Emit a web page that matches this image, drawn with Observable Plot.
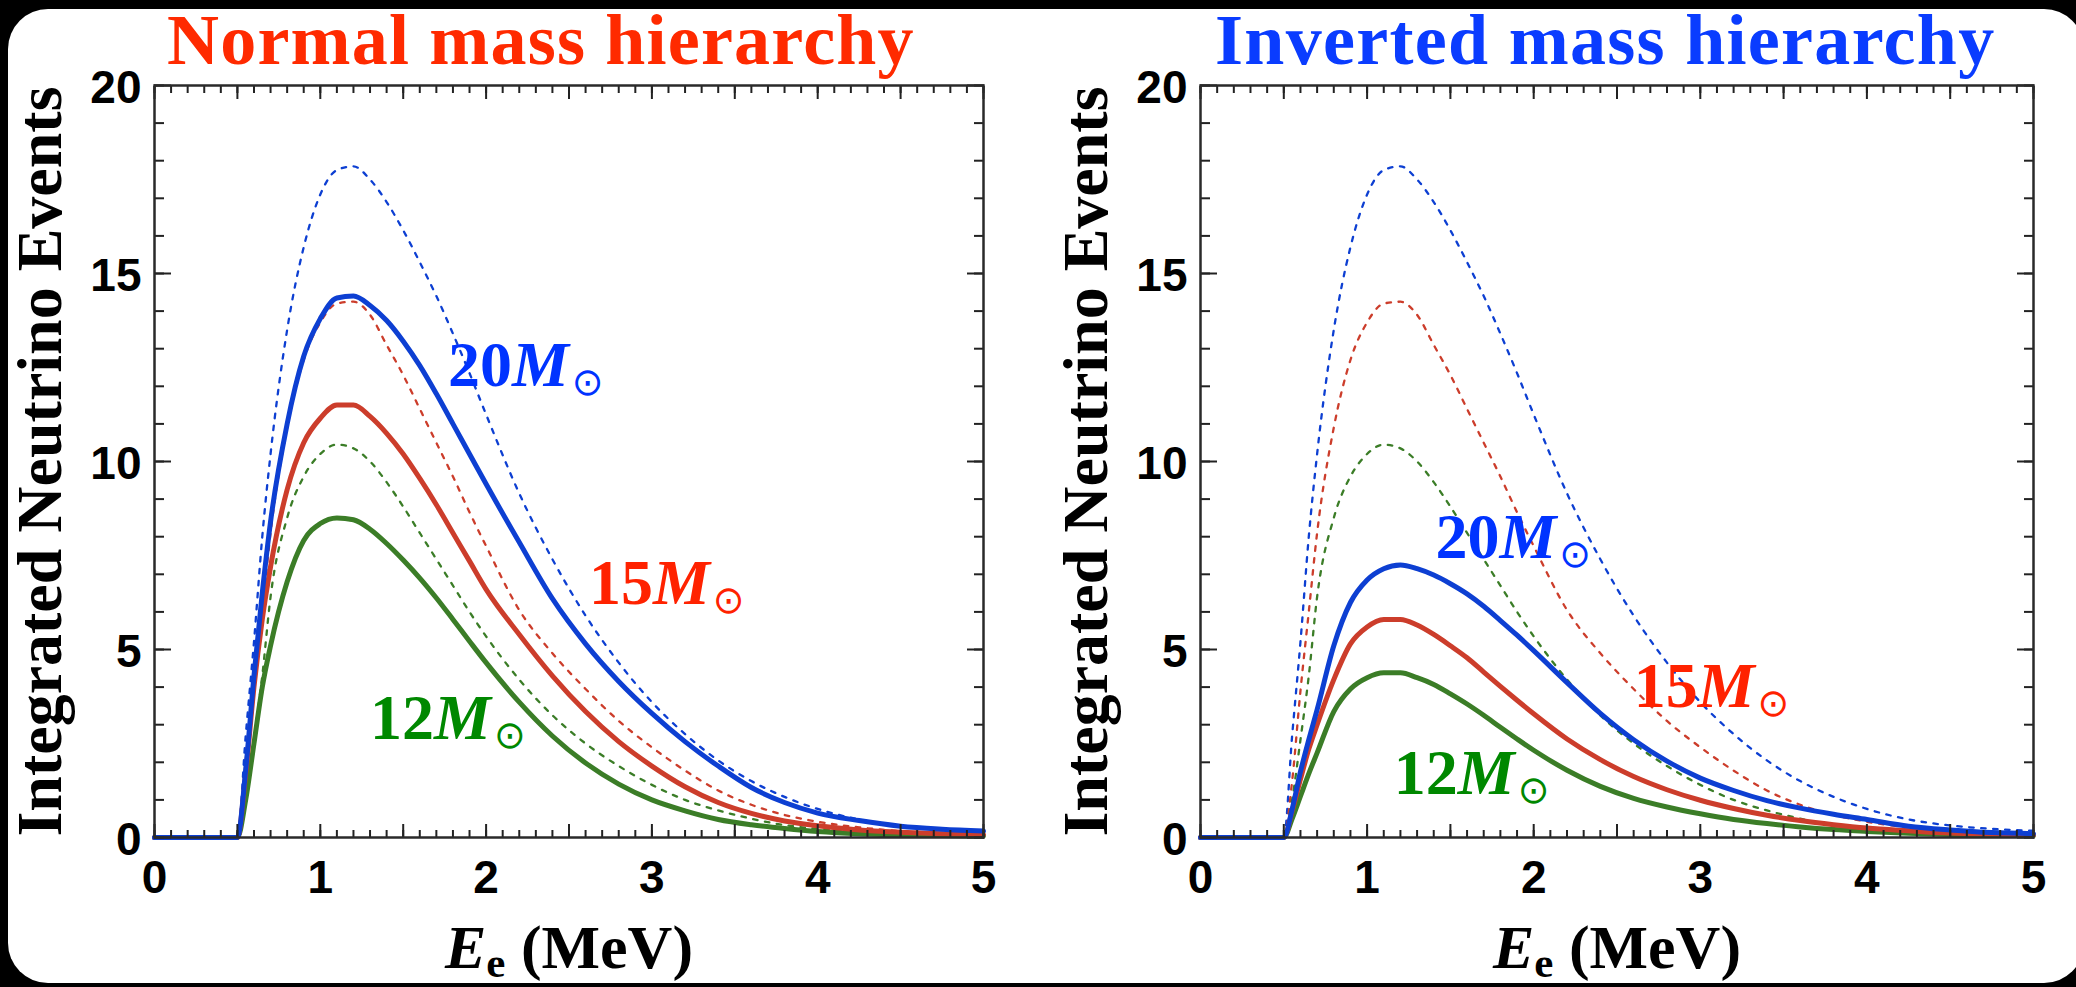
<!DOCTYPE html>
<html><head><meta charset="utf-8">
<script src="https://cdn.jsdelivr.net/npm/d3@7"></script>
<script src="https://cdn.jsdelivr.net/npm/@observablehq/plot@0.6"></script>
<style>
html,body{margin:0;padding:0;background:#000;}
#wrap{position:relative;width:2076px;height:987px;background:#000;overflow:hidden;}
#card{position:absolute;left:8px;top:9px;width:2076px;height:974px;background:#fff;border-radius:40px;}
.title{position:absolute;top:0;font-family:"Liberation Serif","Times New Roman",serif;font-weight:bold;font-size:72px;line-height:80px;white-space:nowrap;}
.panel{position:absolute;top:64px;}
</style></head><body>
<div id="wrap"><div id="card"></div>
<div class="title" style="left:167px;color:#ff2a00;letter-spacing:1.2px">Normal mass hierarchy</div>
<div class="title" style="left:1215px;color:#0a3cff;letter-spacing:1.3px">Inverted mass hierarchy</div>
<div class="panel" id="p1" style="left:0px"></div>
<div class="panel" id="p2" style="left:1040px"></div>
</div>
<script>
// Electron energy grid (MeV)
const E = [0, 0.5, 0.55, 0.6, 0.65, 0.7, 0.8, 0.9, 1.0, 1.1, 1.2, 1.3, 1.4, 1.5, 1.6, 1.7, 1.8, 1.9, 2.0, 2.2, 2.4, 2.6, 2.8, 3.0, 3.2, 3.4, 3.6, 3.8, 4.0, 4.25, 4.5, 4.75, 5.0];
// dotted curves (same in both panels)
const noOsc20 = [0, 0, 2.7, 5.2, 8.0, 10.2, 13.5, 15.7, 17.1, 17.75, 17.85, 17.5, 16.9, 16.15, 15.3, 14.4, 13.4, 12.35, 11.25, 9.15, 7.4, 5.9, 4.65, 3.6, 2.75, 2.05, 1.5, 1.08, 0.76, 0.48, 0.32, 0.23, 0.18];
const noOsc15 = [0, 0, 1.5, 3.9, 6.0, 8.1, 10.9, 12.7, 13.7, 14.2, 14.25, 13.9, 13.1, 12.3, 11.4, 10.5, 9.6, 8.65, 7.75, 6.05, 4.9, 3.95, 3.1, 2.4, 1.78, 1.25, 0.87, 0.6, 0.42, 0.27, 0.17, 0.12, 0.09];
const noOsc12 = [0, 0, 1.0, 2.6, 4.3, 6.4, 8.5, 9.6, 10.2, 10.45, 10.35, 10.0, 9.45, 8.8, 8.1, 7.4, 6.7, 6.0, 5.35, 4.2, 3.25, 2.5, 1.9, 1.4, 1.0, 0.72, 0.5, 0.33, 0.23, 0.14, 0.09, 0.06, 0.05];
// Normal hierarchy (solid)
const nh20 = [0, 0, 1.8, 4.3, 6.5, 8.4, 11.0, 12.8, 13.8, 14.35, 14.4, 14.15, 13.75, 13.2, 12.55, 11.8, 11.0, 10.2, 9.4, 7.85, 6.35, 5.15, 4.15, 3.3, 2.55, 1.9, 1.33, 0.93, 0.65, 0.45, 0.3, 0.22, 0.17];
const nh15 = [0, 0, 1.7, 4.0, 5.8, 7.2, 9.25, 10.5, 11.15, 11.5, 11.5, 11.2, 10.75, 10.2, 9.55, 8.85, 8.1, 7.35, 6.6, 5.4, 4.3, 3.35, 2.55, 1.9, 1.35, 0.93, 0.64, 0.44, 0.31, 0.2, 0.14, 0.1, 0.08];
const nh12 = [0, 0, 1.0, 2.5, 4.0, 5.1, 6.8, 7.9, 8.35, 8.5, 8.45, 8.2, 7.82, 7.38, 6.9, 6.37, 5.8, 5.22, 4.65, 3.6, 2.7, 1.98, 1.42, 1.0, 0.71, 0.48, 0.34, 0.24, 0.16, 0.1, 0.07, 0.05, 0.04];
// Inverted hierarchy (solid)
const ih20 = [0, 0, 0.75, 1.75, 2.6, 3.4, 5.1, 6.25, 6.85, 7.15, 7.25, 7.15, 6.98, 6.75, 6.48, 6.15, 5.77, 5.38, 4.97, 4.12, 3.3, 2.6, 2.03, 1.58, 1.25, 0.98, 0.78, 0.62, 0.48, 0.3, 0.2, 0.13, 0.1];
const ih15 = [0, 0, 0.7, 1.55, 2.35, 3.0, 4.2, 5.15, 5.6, 5.8, 5.8, 5.65, 5.4, 5.1, 4.78, 4.4, 4.02, 3.65, 3.29, 2.62, 2.07, 1.62, 1.27, 0.99, 0.77, 0.59, 0.45, 0.34, 0.25, 0.18, 0.12, 0.09, 0.07];
const ih12 = [0, 0, 0.5, 1.1, 1.7, 2.25, 3.35, 3.95, 4.25, 4.38, 4.38, 4.25, 4.07, 3.82, 3.55, 3.25, 2.93, 2.62, 2.32, 1.79, 1.36, 1.04, 0.81, 0.63, 0.48, 0.37, 0.28, 0.21, 0.16, 0.11, 0.08, 0.06, 0.05];

// tick values
const xTicks = [0, 1, 2, 3, 4, 5];
const yTicks = [0, 5, 10, 15, 20];
const xMajor = [0, 0.5, 1, 1.5, 2, 2.5, 3, 3.5, 4, 4.5, 5];
const xMinor = d3.range(0, 51).map(i => i / 10);
const yMinor = d3.range(0, 21);

// curve labels
const labelText = ["20M⊙", "15M⊙", "12M⊙"];
const labelColor = ["#0033ff", "#ff2200", "#008800"];
const nhLabelE = [1.77, 2.62, 1.30], nhLabelV = [12.0, 6.22, 2.62];
const ihLabelE = [1.41, 2.60, 1.16], ihLabelV = [7.44, 3.47, 1.16];

const blue = "#0d3fd2", red = "#cc3d2b", green = "#3b7d27";
const serif = '"Liberation Serif","Times New Roman",serif';
const sans = '"Liberation Sans",Arial,Helvetica,sans-serif';

function rows(series) {
  return series.flatMap(([name, vals, color]) => E.map((e, i) => ({E: e, v: vals[i], name, color})));
}
const dottedRows = rows([["d20", noOsc20, blue], ["d15", noOsc15, red], ["d12", noOsc12, green]]);

function panel({width, marginLeft, marginRight, solid, lE, lV}) {
  const solidRows = rows(solid);
  const labels = labelText.map((t, i) => ({t, E: lE[i], v: lV[i], c: labelColor[i]}));
  const tk = {fill: "none", label: null, stroke: "#222", strokeWidth: 2};
  return Plot.plot({
    width, height: 923, marginTop: 21, marginBottom: 150, marginLeft, marginRight,
    x: {domain: [0, 5]}, y: {domain: [0, 20]},
    color: {type: "identity"},
    style: {fontFamily: sans, fontWeight: "bold", fontSize: "46px", background: "transparent", overflow: "visible", color: "#000"},
    marks: [
      Plot.line(dottedRows, {x: "E", y: "v", z: "name", stroke: "color", strokeWidth: 2.3, strokeDasharray: "4.5,7.5", curve: "monotone-x"}),
      Plot.line(solidRows, {x: "E", y: "v", z: "name", stroke: "color", strokeWidth: 5, curve: "monotone-x"}),
      Plot.axisX(xMinor, {anchor: "bottom", tickSize: -7, ...tk}),
      Plot.axisX(xMajor, {anchor: "bottom", tickSize: -13, ...tk}),
      Plot.axisX(xMinor, {anchor: "top", tickSize: -7, ...tk}),
      Plot.axisX(xMajor, {anchor: "top", tickSize: -13, ...tk}),
      Plot.axisY(yMinor, {anchor: "left", tickSize: -10, ...tk}),
      Plot.axisY(yTicks, {anchor: "left", tickSize: -17, ...tk}),
      Plot.axisY(yMinor, {anchor: "right", tickSize: -10, ...tk}),
      Plot.axisY(yTicks, {anchor: "right", tickSize: -17, ...tk}),
      Plot.frame({stroke: "#2a2a2a", strokeWidth: 2.5}),
      Plot.axisX(xTicks, {anchor: "bottom", tickSize: 0, tickPadding: 23, tickFormat: d => String(d), label: null, fontSize: 46, fontWeight: "bold", fill: "#000"}),
      Plot.axisY(yTicks, {anchor: "left", tickSize: 0, tickPadding: 13, tickFormat: d => String(d), label: null, fontSize: 46, fontWeight: "bold", fill: "#000", dy: 3}),
      Plot.text(labels, {x: "E", y: "v", text: "t", fill: "c", textAnchor: "start", lineAnchor: "bottom", fontFamily: serif, fontWeight: "bold", fontSize: 64}),
      Plot.text(["Integrated Neutrino Events"], {frameAnchor: "left", text: d => d, rotate: -90, dx: -114, textAnchor: "middle", lineAnchor: "middle", fontFamily: serif, fontWeight: "bold", fontSize: 64, fill: "#000"}),
      Plot.text(["E_e (MeV)"], {frameAnchor: "bottom", text: d => d, dy: 130, textAnchor: "middle", lineAnchor: "bottom", fontFamily: serif, fontWeight: "bold", fontSize: 62, fill: "#000"})
    ]
  });
}

function tspan(parent, txt, attrs = {}) {
  const t = document.createElementNS("http://www.w3.org/2000/svg", "tspan");
  for (const k in attrs) t.setAttribute(k, attrs[k]);
  t.textContent = txt;
  parent.appendChild(t);
}
function rich(svg) {
  svg.querySelectorAll("text").forEach(t => {
    const s = t.textContent;
    const m = s.match(/^(\d+)M⊙$/);
    if (m) {
      t.textContent = "";
      tspan(t, m[1]);
      tspan(t, "M", {"font-style": "italic"});
      tspan(t, "⊙", {"font-family": "DejaVu Sans", "font-weight": "normal", "font-size": "38", "dx": "3", "dy": "9"});
    } else if (s === "E_e (MeV)") {
      t.textContent = "";
      tspan(t, "E", {"font-style": "italic"});
      tspan(t, "e", {"font-size": "43", "dy": "9"});
      tspan(t, " (MeV)", {"dy": "-9"});
    }
  });
}

const s1 = panel({width: 1040, marginLeft: 154, marginRight: 57, solid: [["n12", nh12, green], ["n15", nh15, red], ["n20", nh20, blue]], lE: nhLabelE, lV: nhLabelV});
const s2 = panel({width: 1036, marginLeft: 160, marginRight: 43, solid: [["i12", ih12, green], ["i15", ih15, red], ["i20", ih20, blue]], lE: ihLabelE, lV: ihLabelV});
rich(s1); rich(s2);
document.getElementById("p1").appendChild(s1);
document.getElementById("p2").appendChild(s2);
</script>
</body></html>
